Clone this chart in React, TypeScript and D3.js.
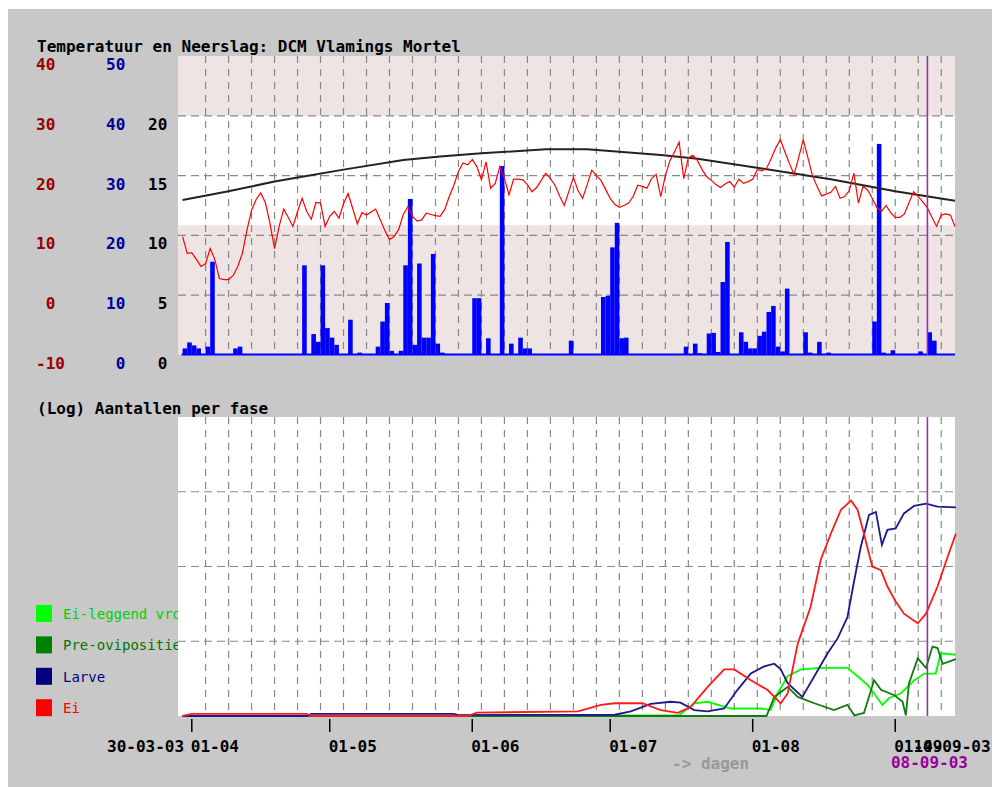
import * as d3 from 'd3';

// first data day and plotted range
const START = new Date(2003, 2, 30);
const DOMAIN_START = new Date(2003, 2, 29);
const DOMAIN_END = new Date(2003, 8, 14);
const MARK_DATE = new Date(2003, 8, 8);

const TITLE_TOP = 'Temperatuur en Neerslag: DCM Vlamings Mortel';
const TITLE_BOTTOM = '(Log) Aantallen per fase';

// daily mean temperature (°C), one value per day from 30-03
const TEMP = [
  9.8, 7.0, 7.1, 6.0, 4.8, 5.3, 7.8, 6.0, 2.8, 2.6,
  2.6, 3.3, 4.8, 7.0, 10.9, 14.2, 16.0, 17.1, 15.5, 12.0,
  7.8, 11.5, 14.4, 13.0, 11.5, 14.0, 16.2, 14.0, 12.7, 15.5,
  15.4, 11.5, 13.2, 14.0, 12.9, 15.3, 17.0, 14.5, 11.9, 13.8,
  13.4, 13.9, 14.4, 12.6, 10.8, 9.3, 9.8, 11.0, 13.5, 14.8,
  13.2, 12.4, 12.6, 13.7, 13.5, 13.3, 13.2, 14.3, 16.5, 18.4,
  20.7, 22.1, 21.8, 22.7, 21.5, 19.3, 22.3, 17.9, 18.7, 21.5,
  19.5, 16.8, 19.4, 19.4, 19.3, 18.5, 17.3, 18.0, 19.2, 20.4,
  19.5, 18.4, 16.6, 15.0, 17.3, 19.7, 17.5, 16.2, 18.5, 20.9,
  20.0, 19.2, 17.7, 16.2, 15.2, 14.7, 15.0, 15.4, 16.5, 18.4,
  18.2, 17.9, 19.5, 20.2, 16.5, 20.0, 22.5, 24.0, 25.6, 19.5,
  23.0, 23.4, 22.5, 21.0, 19.8, 19.2, 18.5, 18.0, 18.6, 19.0,
  18.1, 19.4, 18.7, 19.0, 19.4, 21.0, 20.8, 21.2, 22.8, 24.6,
  26.0, 24.0, 22.0, 20.2, 23.0, 26.0, 23.0, 20.0, 18.2, 16.6,
  16.9, 17.2, 18.2, 16.2, 16.5, 17.5, 20.4, 15.4, 18.2, 17.6,
  16.2, 14.7, 14.0, 15.0, 13.8, 13.0, 13.0, 13.6, 15.5, 17.3,
  16.5, 15.6, 14.6, 13.0, 11.5, 13.4, 13.6, 13.4, 11.5,
];

// daily precipitation (mm)
const RAIN = [
  1.1, 2.1, 1.6, 1.1, 0, 1.4, 15.6, 0, 0, 0,
  0, 1.1, 1.4, 0, 0, 0, 0, 0, 0, 0,
  0, 0, 0, 0, 0, 0, 15.0, 0, 3.5, 2.2,
  15.0, 4.5, 2.9, 1.7, 0, 0, 5.9, 0, 0.4, 0,
  0, 0, 1.4, 5.6, 8.7, 0.7, 0, 0.7, 15.0, 26.1,
  1.7, 15.3, 2.9, 2.9, 16.9, 1.9, 0.4, 0, 0, 0,
  0, 0, 0, 9.5, 9.5, 0, 2.8, 0, 0, 31.6,
  0, 1.9, 0, 2.9, 1.1, 1.1, 0, 0, 0, 0,
  0, 0, 0, 0, 2.4, 0, 0, 0, 0, 0,
  0, 9.7, 9.9, 18.0, 22.1, 2.8, 2.9, 0, 0, 0,
  0, 0, 0, 0, 0, 0, 0, 0, 0, 1.4,
  0, 1.9, 0.3, 0, 3.6, 3.7, 0.5, 12.2, 18.9, 0,
  0, 3.8, 2.2, 1.1, 1.1, 3.2, 3.9, 7.2, 8.2, 1.4,
  0.6, 11.1, 0, 0, 0, 3.8, 0.4, 0, 2.2, 0,
  0.4, 0, 0, 0, 0, 0, 0, 0, 0, 0,
  5.6, 35.3, 0.4, 0, 0.8, 0, 0, 0, 0, 0,
  0.6, 0, 3.8, 2.4, 0, 0, 0, 0, 0,
];

// black curve (day offset, value on 0-25 axis)
const DAYLEN: [number, number][] = [
  [0, 12.96], [10, 13.7], [20, 14.5], [26, 14.9], [35, 15.5], [48, 16.3], [56, 16.6],
  [65, 16.86], [79, 17.2], [88, 17.2], [95, 17.0], [104, 16.72], [112, 16.4],
  [126, 15.6], [141, 14.7], [155, 13.7], [168, 12.9],
];

// population counts per phase (day offset, count), log axis
const EI: [number, number][] = [
  [0, 1.0], [2, 1.07], [27, 1.07], [28, 1.0], [62, 1.0], [64, 1.11], [86, 1.15],
  [91, 1.41], [94, 1.48], [100, 1.48], [104, 1.2], [107.7, 1.1], [110.5, 1.32],
  [114.2, 2.45], [117.8, 4.2], [120, 4.2], [123.6, 3.0], [127.2, 2.24], [130.1, 1.48],
  [131.6, 2.0], [133.8, 9.3], [136.6, 29], [138.8, 123], [141, 275], [143.2, 575],
  [145.4, 759], [146.8, 575], [148.2, 275], [150, 100], [151.9, 89], [153.3, 54],
  [155.1, 34], [156.9, 23.4], [159.9, 17.4], [161.7, 23.4], [164.2, 54], [166.4, 135],
  [168.2, 275],
];
const LARVE: [number, number][] = [
  [0, 1.0], [27, 1.0], [28, 1.07], [59, 1.07], [60, 1.03], [94, 1.04], [97.5, 1.15],
  [101.8, 1.45], [106.2, 1.55], [108.3, 1.51], [111.3, 1.2], [114.2, 1.15], [117.8, 1.26],
  [120.7, 2.24], [123.6, 3.7], [126.5, 4.6], [128.7, 5.0], [130.1, 4.2], [131.6, 2.75],
  [134.8, 1.8], [137.4, 3.4], [140.3, 6.9], [142.5, 11], [144.6, 21], [146.1, 66],
  [147.5, 182], [149.3, 490], [150.8, 537], [152.1, 195], [153.3, 309], [155.1, 324],
  [156.9, 513], [159.1, 646], [161.7, 692], [164.2, 631], [168.2, 617],
];
const EILEGGEND: [number, number][] = [
  [0, 1.0], [108, 1.03], [111.3, 1.48], [114.2, 1.55], [119.2, 1.26], [125.8, 1.26],
  [127.9, 1.2], [129.4, 2.0], [131.6, 3.4], [134.5, 4.2], [138.8, 4.4], [144.6, 4.4],
  [146.8, 3.4], [149, 2.6], [150.4, 2.0], [152.2, 1.41], [153.7, 1.74], [156.2, 2.0],
  [159.1, 3.0], [161.3, 3.7], [163.8, 3.7], [164.9, 6.9], [168.2, 6.6],
];
const PREOVI: [number, number][] = [
  [0, 1.0], [127, 1.0], [128.7, 1.8], [131.6, 2.45], [133.8, 1.8], [137.4, 1.48],
  [141.7, 1.2], [144.6, 1.41], [146.1, 1.02], [148.2, 1.1], [150.4, 3.0], [151.9, 2.24],
  [154.8, 1.9], [156.6, 1.55], [157.3, 1.02], [158, 2.75], [159.9, 5.9], [161.7, 4.4],
  [163.1, 8.5], [164.2, 8.1], [165.3, 5.0], [168.2, 5.75],
];

const TEMP_TICKS = [40, 30, 20, 10, 0, -10];
const RAIN_TICKS = [50, 40, 30, 20, 10, 0];
const DAY_TICKS = [20, 15, 10, 5, 0];
const TEMP_BAND = [11.7, 30];

const MONTH_TICKS = [
  new Date(2003, 3, 1), new Date(2003, 4, 1), new Date(2003, 5, 1),
  new Date(2003, 6, 1), new Date(2003, 7, 1), new Date(2003, 8, 1),
];
const MONTH_LABELS = ['01-04', '01-05', '01-06', '01-07', '01-08', '01-09'];
const START_LABEL = '30-03-03';
const END_LABEL = '14-09-03';
const MARK_LABEL = '08-09-03';

const LEGEND = [
  { label: 'Ei-leggend vrouwtjes', box: '#00ff00', text: '#00d000' },
  { label: 'Pre-ovipositie', box: '#008000', text: '#007700' },
  { label: 'Larve', box: '#000080', text: '#000080' },
  { label: 'Ei', box: '#ff0000', text: '#ff0000' },
];

const FONT = '"DejaVu Sans Mono", monospace';
const CH = 9.63;

const dayDate = (d: number) => new Date(START.getTime() + d * 86400000);

function App() {
  const x = d3.scaleTime().domain([DOMAIN_START, DOMAIN_END]).range([178, 955]);
  const tempY = d3.scaleLinear().domain([-10, 40]).range([355, 56]);
  const rainY = d3.scaleLinear().domain([0, 50]).range([355, 56]);
  const dayY = d3.scaleLinear().domain([0, 25]).range([355, 56]);
  const logY = d3.scaleLog().domain([1, 10000]).range([716, 417]).clamp(true);

  const left = x(DOMAIN_START);
  const right = x(DOMAIN_END);
  const plotW = right - left;

  const tempLine = d3.line<number>()
    .x((_, i) => x(dayDate(i)))
    .y(v => tempY(v));
  const dayLine = d3.line<[number, number]>()
    .x(p => x(dayDate(p[0])))
    .y(p => dayY(p[1]));
  const popLine = d3.line<[number, number]>()
    .x(p => x(dayDate(p[0])))
    .y(p => logY(Math.max(1, p[1])));

  // vertical grid every 5 days from the first data day
  const gridDays = d3.range(5, 170, 5).filter(d => x(dayDate(d)) < right - 2);
  const markX = x(MARK_DATE);

  const padLabel = (s: string, x0: number) => x0 + Math.max(0, 2 - s.length) * CH;

  const series = [
    { data: EILEGGEND, color: '#00ff00' },
    { data: PREOVI, color: '#117a11' },
    { data: LARVE, color: '#1a1a8a' },
    { data: EI, color: '#ff1a1a' },
  ];

  return (
    <svg
      width={995}
      height={787}
      style={{ position: 'absolute', left: 0, top: 0, display: 'block' }}
      fontFamily={FONT}
    >
      <rect x={8} y={9} width={984} height={778} fill="#c8c8c8" />

      <text x={37} y={52} fontSize={16} fontWeight="bold" fill="#000">{TITLE_TOP}</text>
      <text x={37} y={414} fontSize={16} fontWeight="bold" fill="#000">{TITLE_BOTTOM}</text>

      {/* left axis labels of the top panel */}
      {TEMP_TICKS.map(t => (
        <text key={'t' + t} x={padLabel(String(t), 36)} y={tempY(t) + 14}
          fontSize={16} fontWeight="bold" fill="#990000">{t}</text>
      ))}
      {RAIN_TICKS.map(t => (
        <text key={'r' + t} x={padLabel(String(t), 106)} y={rainY(t) + 14}
          fontSize={16} fontWeight="bold" fill="#000099">{t}</text>
      ))}
      {DAY_TICKS.map(t => (
        <text key={'d' + t} x={padLabel(String(t), 148)} y={dayY(t) + 14}
          fontSize={16} fontWeight="bold" fill="#000">{t}</text>
      ))}

      {/* legend, drawn before the plot so the plot covers its tail */}
      {LEGEND.map((l, i) => (
        <g key={l.label}>
          <rect x={36} y={605 + i * 31.4} width={16} height={17} fill={l.box} />
          <text x={63} y={619 + i * 31.4} fontSize={14} fill={l.text}>{l.label}</text>
        </g>
      ))}

      {/* top panel */}
      <rect x={left} y={56} width={plotW} height={299} fill="#efe4e4" />
      <rect x={left} y={tempY(TEMP_BAND[1])} width={plotW}
        height={tempY(TEMP_BAND[0]) - tempY(TEMP_BAND[1])} fill="#ffffff" />
      {gridDays.map(d => (
        <line key={'gv' + d} x1={x(dayDate(d))} x2={x(dayDate(d))} y1={56} y2={355}
          stroke="#888" strokeDasharray="7,6" strokeWidth={1.2} />
      ))}
      {[5, 10, 15, 20].map(v => (
        <line key={'gh' + v} x1={left} x2={right} y1={dayY(v)} y2={dayY(v)}
          stroke="#888" strokeDasharray="8,5" strokeWidth={1.2} />
      ))}
      {RAIN.map((v, i) => v > 0 && (
        <rect key={'b' + i} x={x(dayDate(i))} y={rainY(v)}
          width={x(dayDate(i + 1)) - x(dayDate(i))} height={rainY(0) - rainY(v)} fill="#0000ff" />
      ))}
      <line x1={x(dayDate(0)) - 1} x2={right} y1={354.5} y2={354.5} stroke="#0000ff" strokeWidth={2} />
      <path d={dayLine(DAYLEN) ?? ''} fill="none" stroke="#222" strokeWidth={2} />
      <path d={tempLine(TEMP) ?? ''} fill="none" stroke="#ff0000" strokeWidth={1.2} />
      <line x1={markX} x2={markX} y1={56} y2={355} stroke="#9933aa" strokeWidth={1.6} />

      {/* bottom panel */}
      <rect x={left} y={417} width={plotW} height={299} fill="#ffffff" />
      {gridDays.map(d => (
        <line key={'bv' + d} x1={x(dayDate(d))} x2={x(dayDate(d))} y1={417} y2={716}
          stroke="#888" strokeDasharray="7,6" strokeWidth={1.2} />
      ))}
      {[10, 100, 1000].map(v => (
        <line key={'bh' + v} x1={left} x2={right} y1={logY(v)} y2={logY(v)}
          stroke="#888" strokeDasharray="8,5" strokeWidth={1.2} />
      ))}
      {series.map(s => (
        <path key={s.color} d={popLine(s.data) ?? ''} fill="none" stroke={s.color} strokeWidth={1.8} />
      ))}
      <line x1={markX} x2={markX} y1={417} y2={716} stroke="#9933aa" strokeWidth={1.6} />

      {/* time axis */}
      {MONTH_TICKS.map((m, i) => (
        <g key={MONTH_LABELS[i]}>
          <line x1={x(m)} x2={x(m)} y1={719} y2={732} stroke="#000" strokeWidth={1.5} />
          <text x={x(m) - 1} y={752} fontSize={16} fontWeight="bold" fill="#000">{MONTH_LABELS[i]}</text>
        </g>
      ))}
      <text x={x(START) + 1.5} y={752} fontSize={16} fontWeight="bold" fill="#000"
        textAnchor="end">{START_LABEL}</text>
      <text x={x(DOMAIN_END) - 3} y={752} fontSize={16} fontWeight="bold" fill="#000"
        textAnchor="middle">{END_LABEL}</text>
      <text x={672} y={769} fontSize={16} fontWeight="bold" fill="#999">-&gt; dagen</text>
      <text x={markX + 2} y={768} fontSize={16} fontWeight="bold" fill="#990099"
        textAnchor="middle">{MARK_LABEL}</text>
    </svg>
  );
}

export default App;
